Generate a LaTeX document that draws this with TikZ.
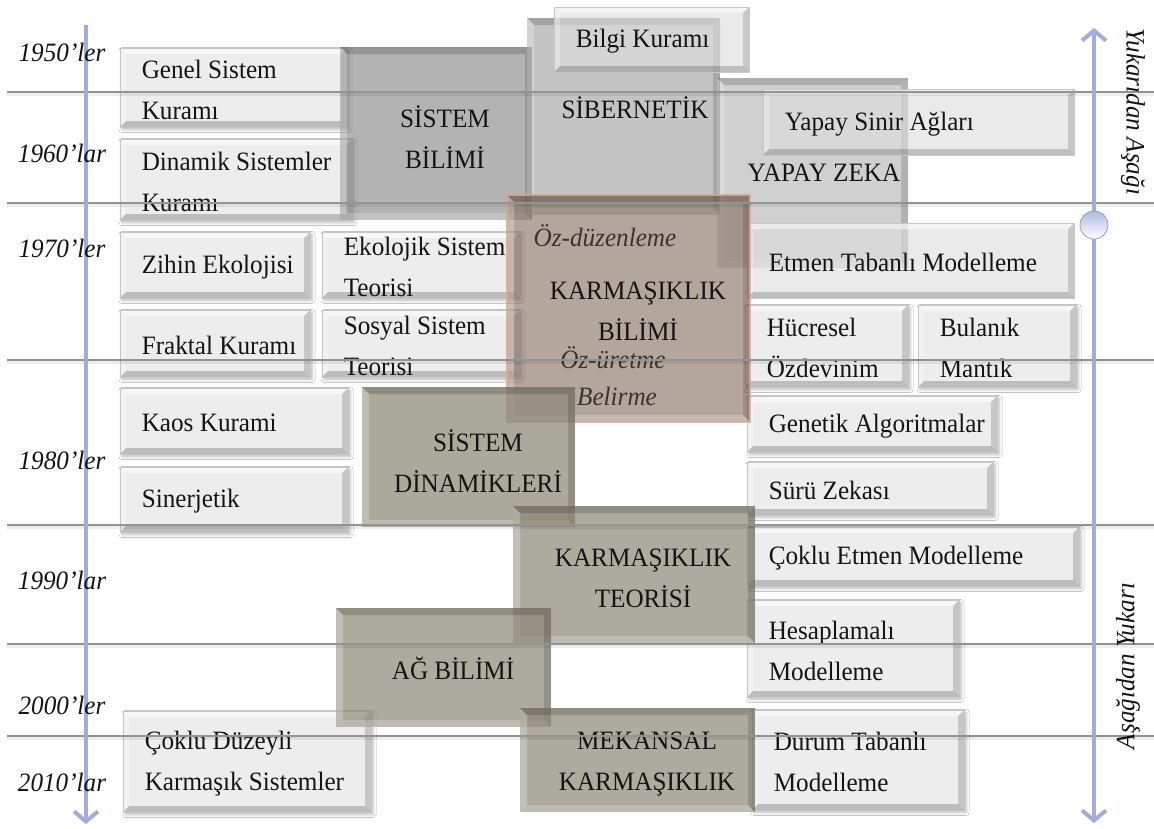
\documentclass[tikz,border=0pt]{standalone}
\usepackage{fontspec}
\setmainfont{Liberation Serif}[FakeStretch=0.95]
\usetikzlibrary{arrows.meta,fit,shadows.blur}

\definecolor{textBlack}{HTML}{141414}
\definecolor{faceLight}{HTML}{EDEDED}
\definecolor{edgeLight}{HTML}{C6C6C6}
\definecolor{glassFace}{HTML}{DEDEDE}
\definecolor{axisBlue}{HTML}{A2ADDB}
\definecolor{gridGray}{HTML}{939393}
\definecolor{panelA}{HTML}{767676}
\definecolor{panelB}{HTML}{7E7E7E}
\definecolor{panelC}{HTML}{8A8A8A}
\definecolor{panelBrown}{HTML}{826B5D}
\definecolor{panelRim}{HTML}{E2A494}
\definecolor{panelWarm}{HTML}{8F8B7B}
\definecolor{panelTaupe}{HTML}{8B8777}
\definecolor{italicInk}{HTML}{3A3330}

% four bevel strips painted inside a rectangle: width, top, left, right, bottom
\newcommand\bevelpaint[5]{%
  \path (path picture bounding box.north west) coordinate (pNW)
        (path picture bounding box.north east) coordinate (pNE)
        (path picture bounding box.south west) coordinate (pSW)
        (path picture bounding box.south east) coordinate (pSE);
  \fill[#2] (pNW) -- (pNE) -- ([xshift=-#1,yshift=-#1]pNE) -- ([xshift=#1,yshift=-#1]pNW) -- cycle;
  \fill[#3] (pNW) -- ([xshift=#1,yshift=-#1]pNW) -- ([xshift=#1,yshift=#1]pSW) -- (pSW) -- cycle;
  \fill[#4] (pNE) -- (pSE) -- ([xshift=-#1,yshift=#1]pSE) -- ([xshift=-#1,yshift=-#1]pNE) -- cycle;
  \fill[#5] (pSW) -- (pSE) -- ([xshift=-#1,yshift=#1]pSE) -- ([xshift=#1,yshift=#1]pSW) -- cycle;
}

\tikzset{
  lightbox/.style={rectangle, inner sep=0pt, fill=faceLight, draw=edgeLight, line width=0.8pt,
    blur shadow={shadow xshift=2pt, shadow yshift=-2.5pt, shadow blur radius=3pt, shadow opacity=28},
    path picture={\bevelpaint{6pt}{white,fill opacity=.6}{white,fill opacity=.3}{black,fill opacity=.16}{black,fill opacity=.2}}},
  glassbox/.style={rectangle, inner sep=0pt, fill=glassFace, fill opacity=.62, draw=edgeLight, line width=0.8pt,
    path picture={\bevelpaint{6pt}{white,fill opacity=.5}{white,fill opacity=.3}{black,fill opacity=.14}{black,fill opacity=.18}}},
  panel/.style 2 args={rectangle, inner sep=0pt, fill=#1, fill opacity=#2, draw=none,
    path picture={\bevelpaint{7pt}{black,fill opacity=.16}{white,fill opacity=.25}{black,fill opacity=.14}{white,fill opacity=.22}}},
  boxtext/.style={anchor=west, align=left, inner sep=0pt, text=textBlack, font=\fontsize{26.5}{41}\selectfont},
  cattext/.style={align=center, inner sep=0pt, text=textBlack, font=\fontsize{26.5}{41}\selectfont},
  italictext/.style={inner sep=0pt, text=italicInk, font=\fontsize{26.5}{41}\selectfont\itshape},
  yeartext/.style={inner sep=0pt, text=textBlack, font=\fontsize{26.5}{30}\selectfont\itshape},
  gridline/.style={draw=gridGray, line width=1.2pt,
    preaction={draw=black, draw opacity=.07, line width=3pt, transform canvas={yshift=-2pt}}},
  axis/.style={draw=axisBlue, line width=4pt, -{Straight Barb[length=10pt,width=24pt]}},
  knob/.style={circle, inner sep=0pt, minimum size=28pt, draw=axisBlue!80!black, line width=0.6pt,
    top color=axisBlue!85, middle color=axisBlue!30, bottom color=white},
}

% box from corner (x1,y1) to (x2,y2) with its left-aligned text
\newcommand\placebox[7]{%
  \path (#3,#4) coordinate (#2-nw) (#5,#6) coordinate (#2-se);
  \node[#1, fit=(#2-nw)(#2-se)] (#2) {};
  \node[boxtext] (#2-text) at ([xshift=22pt,yshift=-2pt]#2.west) {#7};
}
% field panel from corner (x1,y1) to (x2,y2): name, x1, y1, x2, y2, colour, opacity, extra
\newcommand\placefield[8]{%
  \path (#2,#3) coordinate (#1-nw) (#4,#5) coordinate (#1-se);
  \node[panel={#6}{#7}, fit=(#1-nw)(#1-se), #8] (#1) {};
}

\begin{document}
\begin{tikzpicture}[x=1pt,y=-1pt]
\useasboundingbox (0,0) rectangle (1154,828);
\fill[white] (0,0) rectangle (1154,828);

% ---- topic boxes ----
\placebox{lightbox}{gsk}{120}{48}{347}{127}{Genel Sistem\\Kuramı}
\placebox{lightbox}{dsk}{120}{139}{352}{220}{Dinamik Sistemler\\Kuramı}
\placebox{lightbox}{zek}{120}{232}{310}{298}{Zihin Ekolojisi}
\placebox{lightbox}{est}{322}{232}{520}{298}{Ekolojik Sistem\\Teorisi}
\placebox{lightbox}{frk}{120}{310}{310}{377}{Fraktal Kuramı}
\placebox{lightbox}{sst}{322}{310}{520}{377}{Sosyal Sistem\\Teorisi}
\placebox{lightbox}{kao}{120}{388}{348}{454}{Kaos Kurami}
\placebox{lightbox}{sin}{120}{467}{348}{532}{Sinerjetik}
\placebox{lightbox}{cdk}{123}{711}{371}{812}{Çoklu Düzeyli\\Karmaşık Sistemler}
\placebox{lightbox}{hoz}{745}{305}{908}{387}{Hücresel\\Özdevinim}
\placebox{lightbox}{bul}{918}{305}{1076}{387}{Bulanık\\Mantık}
\placebox{lightbox}{gen}{747}{396}{997}{452}{Genetik Algoritmalar}
\placebox{lightbox}{sur}{747}{462}{993}{515}{Sürü Zekası}
\placebox{lightbox}{cem}{747}{527}{1079}{586}{Çoklu Etmen Modelleme}
\placebox{lightbox}{hes}{747}{600}{959}{697}{Hesaplamalı\\Modelleme}
\placebox{lightbox}{dur}{752}{710}{964}{810}{Durum Tabanlı\\Modelleme}

% ---- early fields ----
\placefield{sb}{340}{47}{532}{220}{panelA}{.55}{}
\placefield{sib}{527}{18}{720}{215}{panelB}{.45}{}
\placefield{yz}{717}{78}{908}{268}{panelC}{.4}{}

% ---- boxes lying over the early fields ----
\placebox{glassbox}{bil}{554}{7}{749}{72}{Bilgi Kuramı}
\placebox{glassbox}{ysa}{763}{89}{1074}{155}{Yapay Sinir Ağları}
\placebox{glassbox}{etm}{747}{223}{1074}{298}{Etmen Tabanlı Modelleme}

% ---- later fields ----
\placefield{kb}{507}{195}{750}{422}{panelBrown}{.6}{draw=panelRim, draw opacity=.8, line width=1.2pt}
\placefield{sd}{362}{387}{575}{527}{panelWarm}{.75}{}
\placefield{kt}{513}{506}{755}{643}{panelTaupe}{.7}{}
\placefield{ab}{336}{608}{551}{727}{panelTaupe}{.7}{}
\placefield{mk}{520}{708}{755}{812}{panelTaupe}{.7}{}

% ---- field names ----
\node[cattext] (sb-label) at (445,137) {SİSTEM\\BİLİMİ};
\node[cattext] (sib-label) at (635,108) {SİBERNETİK};
\node[cattext] (yz-label) at (824,173) {YAPAY ZEKA};
\node[cattext] (kb-label) at (638,311) {KARMAŞIKLIK\\BİLİMİ};
\node[italictext] (kb-self) at (605,236) {Öz-düzenleme};
\node[italictext] (kb-auto) at (613,358) {Öz-üretme};
\node[italictext] (kb-emerg) at (617,396) {Belirme};
\node[cattext] (sd-label) at (478,461) {SİSTEM\\DİNAMİKLERİ};
\node[cattext] (kt-label) at (643,578) {KARMAŞIKLIK\\TEORİSİ};
\node[cattext] (ab-label) at (453,668) {AĞ BİLİMİ};
\node[cattext] (mk-label) at (647,764) {MEKANSAL\\KARMAŞIKLIK};

% ---- decade separators ----
\foreach \k/\y in {1/92,2/203,3/360,4/525,5/644,6/736}{
  \coordinate (sep\k-l) at (7,\y);
  \coordinate (sep\k-r) at (1154,\y);
  \draw[gridline] (sep\k-l) -- (sep\k-r);
}

% ---- time axes ----
\coordinate (lt) at (86,25);
\coordinate (lb) at (86,824);
\draw[axis] (lt) -- (lb);
\node[knob] (knob) at (1094,225) {};
\coordinate (rt) at (1094,28);
\coordinate (rb) at (1094,823);
\draw[axis] (knob) -- (rt);
\draw[axis] (knob) -- (rb);

% ---- decades ----
\node[yeartext] (d1950) at (62,52) {1950’ler};
\node[yeartext] (d1960) at (62,153) {1960’lar};
\node[yeartext] (d1970) at (62,248) {1970’ler};
\node[yeartext] (d1980) at (62,460) {1980’ler};
\node[yeartext] (d1990) at (62,580) {1990’lar};
\node[yeartext] (d2000) at (62,705) {2000’ler};
\node[yeartext] (d2010) at (62,782) {2010’lar};

% ---- reading directions ----
\node[yeartext, rotate=-90] (topdown) at (1133,112) {Yukarıdan Aşağı};
\node[yeartext, rotate=90] (bottomup) at (1128,666) {Aşağıdan Yukarı};
\end{tikzpicture}
\end{document}
